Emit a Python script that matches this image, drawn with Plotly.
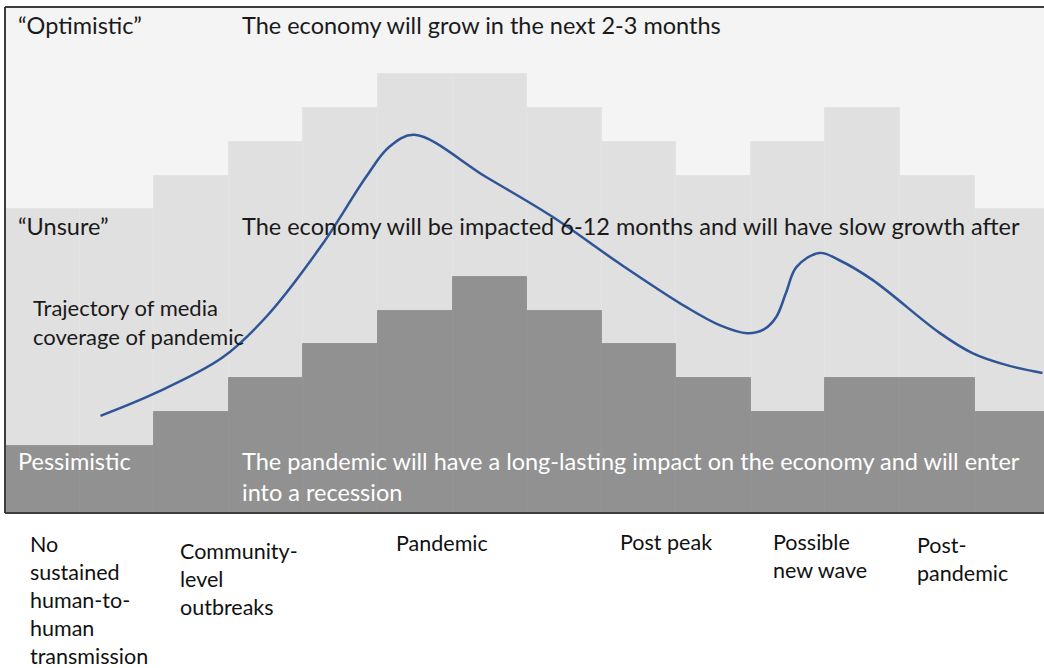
import plotly.graph_objects as go

# ---- data ----
columns = list(range(14))
unsure_top = [9, 9, 10, 11, 12, 13, 13, 12, 11, 10, 11, 12, 10, 9]
pessimistic_top = [2, 2, 3, 4, 5, 6, 7, 6, 5, 4, 3, 4, 4, 3]

curve_x = [1.28, 2.02, 2.91, 3.50, 4.25, 4.84, 5.15, 5.49, 6.45, 7.34, 8.23,
           9.13, 9.58, 9.95, 10.18, 10.34, 10.47, 10.61, 10.92, 11.18, 11.63, 12.53,
           12.97, 13.42, 13.91]
curve_y = [2.88, 3.56, 4.60, 5.81, 7.95, 9.96, 10.85, 11.21, 9.96, 8.78, 7.41,
           6.11, 5.57, 5.33, 5.45, 5.81, 6.52, 7.29, 7.71, 7.50, 6.91, 5.34,
           4.74, 4.39, 4.15]

stages = ["No<br>sustained<br>human-to-<br>human<br>transmission",
          "Community-<br>level<br>outbreaks",
          "Pandemic", "Post peak",
          "Possible<br>new wave", "Post-<br>pandemic"]

band_labels = ["\u201cOptimistic\u201d", "\u201cUnsure\u201d", "Pessimistic"]
band_texts = ["The economy will grow in the next 2-3 months",
              "The economy will be impacted 6-12 months and will have slow growth after",
              "The pandemic will have a long-lasting impact on the economy and will enter<br>into a recession"]
curve_label = "Trajectory of media<br>coverage of pandemic"

# ---- layout helpers ----
stage_x = [0.31, 2.32, 5.22, 8.22, 10.27, 12.2]
stage_y_px = [529, 536, 528, 527, 527, 530]   # top of label block (page pixels)
PLOT_TOP, PLOT_BOTTOM = 7, 513

FONT = "Lato"
fig = go.Figure()
xc = [c + 0.5 for c in columns]

fig.add_trace(go.Bar(x=xc, y=unsure_top, width=1, marker=dict(color="#e0e0e0",
                     line=dict(color="#e4e4e4", width=1)), hoverinfo="skip", showlegend=False))
fig.add_trace(go.Bar(x=xc, y=pessimistic_top, width=1, marker=dict(color="#919191",
                     line=dict(color="#959595", width=1)), hoverinfo="skip", showlegend=False))
fig.add_trace(go.Scatter(x=curve_x, y=curve_y, mode="lines",
                         line=dict(color="#2f5597", width=2.5, shape="spline", smoothing=1.0),
                         hoverinfo="skip", showlegend=False))

ann = []
band_y = [14.47, 8.51, 1.54]
band_text_y = [14.47, 8.51, 1.08]
for i in range(3):
    col = "#ffffff" if i == 2 else "#1a1a1a"
    ann.append(dict(x=0.15, y=band_y[i], xref="x", yref="y", text=band_labels[i], showarrow=False,
                    xanchor="left", yanchor="middle", font=dict(family=FONT, size=23.5, color=col)))
    ann.append(dict(x=3.15, y=band_text_y[i], xref="x", yref="y", text=band_texts[i], showarrow=False,
                    xanchor="left", yanchor="middle", align="left",
                    font=dict(family=FONT, size=23.5, color=col)))
ann.append(dict(x=0.35, y=5.65, xref="x", yref="y", text=curve_label, showarrow=False,
                xanchor="left", yanchor="middle", align="left",
                font=dict(family=FONT, size=22, color="#1a1a1a")))
for s, sx, sy in zip(stages, stage_x, stage_y_px):
    ann.append(dict(x=sx, y=(PLOT_BOTTOM - sy) / (PLOT_BOTTOM - PLOT_TOP), xref="x", yref="paper",
                    text=s, showarrow=False, xanchor="left", yanchor="top", align="left",
                    font=dict(family=FONT, size=21.5, color="#111111")))

shapes = [
    dict(type="line", xref="paper", yref="paper", x0=0, x1=1, y0=1, y1=1, line=dict(color="#3c3c3c", width=2)),
    dict(type="line", xref="paper", yref="paper", x0=0, x1=1, y0=0, y1=0, line=dict(color="#3c3c3c", width=2)),
    dict(type="line", xref="paper", yref="paper", x0=0, x1=0, y0=0, y1=1, line=dict(color="#3c3c3c", width=2)),
]

fig.update_layout(
    width=1044, height=668,
    margin=dict(l=5, r=0, t=PLOT_TOP, b=668 - PLOT_BOTTOM),
    paper_bgcolor="white", plot_bgcolor="#f4f4f4",
    barmode="overlay", bargap=0,
    xaxis=dict(range=[0, 13.93], visible=False, fixedrange=True),
    yaxis=dict(range=[0, 15], visible=False, fixedrange=True),
    annotations=ann, shapes=shapes,
)
fig.write_html("out.html", config={"displayModeBar": False},
               post_script="document.body.style.margin='0px';document.body.style.overflow='hidden';")
